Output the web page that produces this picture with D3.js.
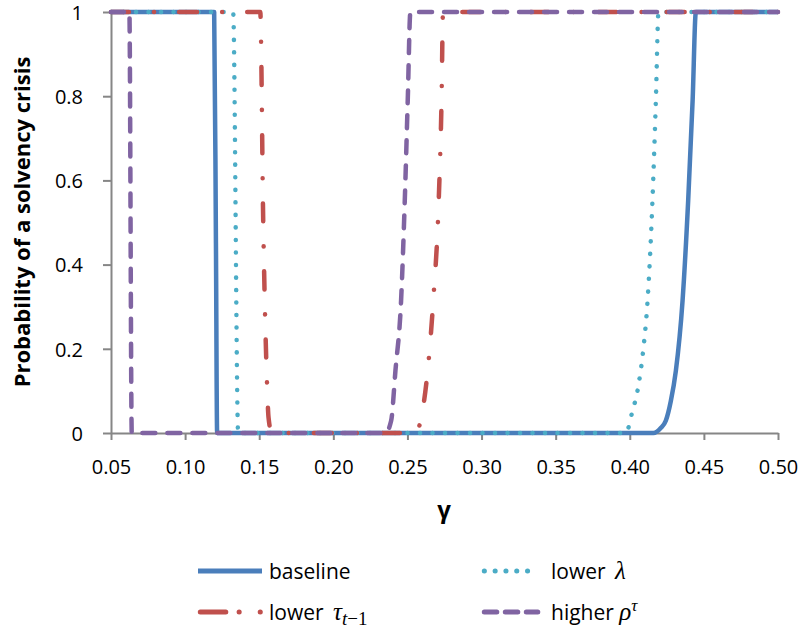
<!DOCTYPE html>
<html>
<head>
<meta charset="utf-8">
<script src="https://cdn.jsdelivr.net/npm/d3@7"></script>
<style>
  html, body { margin: 0; padding: 0; background: #ffffff; }
  svg { display: block; }
  text { font-family: "Open Sans", "Noto Sans", sans-serif; fill: #000; }
</style>
</head>
<body>
<svg id="chart" width="803" height="632"></svg>
<script>
// ---------------- data ----------------
const xTickValues = [0.05, 0.10, 0.15, 0.20, 0.25, 0.30, 0.35, 0.40, 0.45, 0.50];
const xTickLabels = ["0.05", "0.10", "0.15", "0.20", "0.25", "0.30", "0.35", "0.40", "0.45", "0.50"];
const yTickValues = [0, 0.2, 0.4, 0.6, 0.8, 1];
const yTickLabels = ["0", "0.2", "0.4", "0.6", "0.8", "1"];

const gammaBaseline = [0.05, 0.1196, 0.1208, 0.1216, 0.4160, 0.4209, 0.4243, 0.4277, 0.4311, 0.4356, 0.4394, 0.4424, 0.4446, 0.50];
const probBaseline  = [1,    1,      0.45,   0,      0,      0.012,  0.029,  0.076,  0.148,  0.314,  0.552,  0.790,  1,      1];

const gammaLowerLambda = [0.05, 0.1324, 0.1358, 0.3973, 0.4018, 0.4052, 0.4090, 0.4120, 0.4153, 0.4176, 0.4194, 0.50];
const probLowerLambda  = [1,    1,      0,      0,      0.052,  0.100,  0.195,  0.314,  0.552,  0.790,  1,      1];

const gammaLowerTau = [0.05, 0.1507, 0.1527, 0.1552, 0.1563, 0.1585, 0.2561, 0.2588, 0.2633, 0.2674, 0.2711, 0.2730, 0.2740, 0.50];
const probLowerTau  = [1,    1,      0.500,  0.124,  0.036,  0,      0,      0.029,  0.136,  0.314,  0.552,  0.790,  1,      1];

const gammaHigherRho = [0.05, 0.0624, 0.0640, 0.2351, 0.2390, 0.2419, 0.2457, 0.2482, 0.2502, 0.2520, 0.50];
const probHigherRho  = [1,    1,      0,      0,      0.029,  0.148,  0.314,  0.552,  0.790,  1,      1];

const seriesNames = ["baseline", "lower λ", "lower τt−1", "higher ρτ"];

// ---------------- layout ----------------
const svg = d3.select("#chart");
const plotLeft = 111, plotRight = 778, plotTop = 12, plotBottom = 433;
const axisColor = "#868686";

const x = d3.scaleLinear().domain([0.05, 0.50]).range([plotLeft, plotRight]);
const y = d3.scaleLinear().domain([0, 1]).range([plotBottom, plotTop]);

// ---------------- axes ----------------
const xAxis = d3.axisBottom(x)
  .tickValues(xTickValues)
  .tickFormat((d, i) => xTickLabels[i])
  .tickSizeInner(7).tickSizeOuter(0).tickPadding(20);
const yAxis = d3.axisLeft(y)
  .tickValues(yTickValues)
  .tickFormat((d, i) => yTickLabels[i])
  .tickSizeInner(8).tickSizeOuter(0).tickPadding(20);

const gx = svg.append("g").attr("transform", `translate(0,${plotBottom})`).call(xAxis);
const gy = svg.append("g").attr("transform", `translate(${plotLeft},0)`).call(yAxis);
[gx, gy].forEach(g => {
  g.select(".domain").attr("stroke", axisColor).attr("stroke-width", 2);
  g.selectAll(".tick line").attr("stroke", axisColor).attr("stroke-width", 2);
  g.selectAll(".tick text")
    .style("font-family", '"Open Sans", sans-serif')
    .style("font-size", "20px")
    .attr("fill", "#000");
});
gy.selectAll(".tick text").attr("dy", "0.36em");

// axis titles
svg.append("text")
  .attr("transform", `translate(30,222) rotate(-90)`)
  .attr("text-anchor", "middle")
  .style("font-size", "22px")
  .style("font-weight", "bold")
  .text("Probability of a solvency crisis");

svg.append("text")
  .attr("x", 444).attr("y", 518)
  .attr("text-anchor", "middle")
  .style("font-size", "24px")
  .style("font-weight", "bold")
  .text("γ");

// ---------------- lines ----------------
const series = [
  { gamma: gammaBaseline,    prob: probBaseline,    color: "#4A7EBB", dash: null },
  { gamma: gammaLowerLambda, prob: probLowerLambda, color: "#4BACC6", dash: "0.1 12.4" },
  { gamma: gammaLowerTau,    prob: probLowerTau,    color: "#C0504D", dash: "18 25 0.1 25" },
  { gamma: gammaHigherRho,   prob: probHigherRho,   color: "#8064A2", dash: "13 12" }
];

const line = d3.line()
  .x(d => x(d[0]))
  .y(d => y(d[1]))
  .curve(d3.curveMonotoneX);

svg.append("g").selectAll("path")
  .data(series)
  .join("path")
  .attr("d", s => line(s.gamma.map((g, i) => [g, s.prob[i]])))
  .attr("fill", "none")
  .attr("stroke", s => s.color)
  .attr("stroke-width", 4.5)
  .attr("stroke-linecap", s => s.dash ? "round" : "butt")
  .attr("stroke-linejoin", "round")
  .attr("stroke-dasharray", s => s.dash);

// ---------------- legend ----------------
const legendItems = [
  { x1: 198, x2: 262, y: 571, color: "#4A7EBB", dash: null, cap: "butt" },
  { x1: 484.3, x2: 538, y: 571, color: "#4BACC6", dash: "0.1 10.7", cap: "round" },
  { x1: 200.3, x2: 260.3, y: 612, color: "#C0504D", dash: "25.5 13.3 0.1 21 0.1 10", cap: "round" },
  { x1: 484.3, x2: 537.8, y: 612, color: "#8064A2", dash: "12.5 8.5", cap: "round" }
];
const lg = svg.append("g");
legendItems.forEach(it => {
  lg.append("line")
    .attr("x1", it.x1).attr("x2", it.x2).attr("y1", it.y).attr("y2", it.y)
    .attr("stroke", it.color).attr("stroke-width", 5)
    .attr("stroke-linecap", it.cap)
    .attr("stroke-dasharray", it.dash);
});

const legendFont = "21px";
const mathFont = '"Liberation Serif", "DejaVu Serif", serif';

// baseline
lg.append("text").attr("x", 269).attr("y", 579).style("font-size", legendFont).text(seriesNames[0]);
// lower λ
const t2 = lg.append("text").attr("x", 551).attr("y", 579).style("font-size", legendFont);
t2.append("tspan").text("lower ");
t2.append("tspan").attr("dx", 4).style("font-family", mathFont).style("font-style", "italic").style("font-size", "25px").text("λ");
// lower τ_{t−1}
const t3 = lg.append("text").attr("x", 269).attr("y", 620).style("font-size", legendFont);
t3.append("tspan").text("lower ");
t3.append("tspan").attr("dx", 4).style("font-family", mathFont).style("font-style", "italic").style("font-size", "25px").text("τ");
t3.append("tspan").attr("dy", 5).style("font-family", mathFont).style("font-style", "italic").style("font-size", "19px").text("t");
t3.append("tspan").style("font-family", mathFont).style("font-size", "19px").text("−1");
// higher ρ^τ
const t4 = lg.append("text").attr("x", 551).attr("y", 620).style("font-size", legendFont);
t4.append("tspan").text("higher ");
t4.append("tspan").style("font-family", mathFont).style("font-style", "italic").style("font-size", "25px").text("ρ");
t4.append("tspan").attr("dy", -9).style("font-family", mathFont).style("font-style", "italic").style("font-size", "17px").text("τ");
</script>
</body>
</html>
